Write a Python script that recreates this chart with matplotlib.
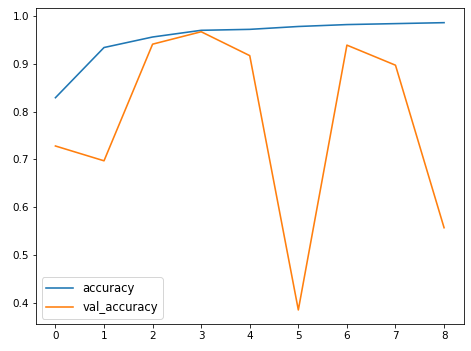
import matplotlib
matplotlib.use("Agg")
import matplotlib.pyplot as plt

epochs = [0, 1, 2, 3, 4, 5, 6, 7, 8]
accuracy = [0.829, 0.934, 0.956, 0.970, 0.972, 0.978, 0.982, 0.984, 0.986]
val_accuracy = [0.728, 0.697, 0.941, 0.967, 0.917, 0.385, 0.939, 0.897, 0.557]

dpi = 72
fig = plt.figure(figsize=(471 / dpi, 351 / dpi), dpi=dpi)
ax = fig.add_subplot(111)
fig.subplots_adjust(left=36 / 471, right=463.5 / 471, top=1 - 8.3 / 351, bottom=1 - 324.3 / 351)

ax.plot(epochs, accuracy, label="accuracy", lw=1.6)
ax.plot(epochs, val_accuracy, label="val_accuracy", lw=1.6)
ax.tick_params(labelsize=10.4)
ax.legend(loc="lower left", fontsize=11.6, handlelength=2.3)

fig.savefig("out.png", dpi=dpi)
